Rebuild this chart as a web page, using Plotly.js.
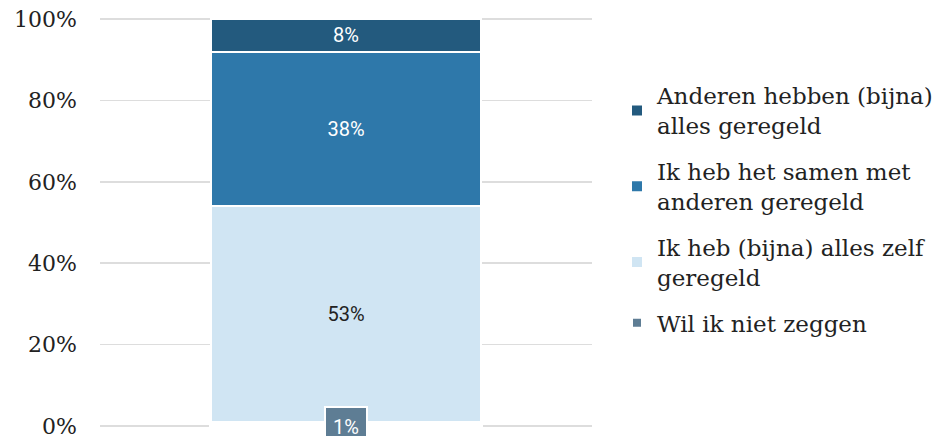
<!DOCTYPE html>
<html>
<head>
<meta charset="utf-8">
<script src="https://cdn.plot.ly/plotly-3.0.1.min.js"></script>
<style>html,body{margin:0;padding:0;background:#fff;}#chart{width:934px;height:436px;}</style>
</head>
<body>
<div id="chart"></div>
<script>
var categories = ["Totaal"];
var seriesNames = [
  "Wil ik niet zeggen",
  "Ik heb (bijna) alles zelf<br>geregeld",
  "Ik heb het samen met<br>anderen geregeld",
  "Anderen hebben (bijna)<br>alles geregeld"
];
var seriesValues = [
  [1],
  [53],
  [38],
  [8]
];
var seriesColors = ["#5e7d94", "#d0e5f3", "#2e78aa", "#235a7e"];
var textColors = ["#ffffff", "#222222", "#ffffff", "#ffffff"];
var yTickVals = [0, 20, 40, 60, 80, 100];
var yTickText = ["0%", "20%", "40%", "60%", "80%", "100%"];

var traces = seriesNames.map(function (name, i) {
  return {
    type: "bar",
    name: name,
    x: categories,
    y: seriesValues[i],
    text: i === 0 ? [""] : seriesValues[i].map(function (v) { return v + "%"; }),
    textposition: "inside",
    insidetextanchor: "middle",
    textangle: 0,
    textfont: { family: "Roboto, sans-serif", size: 20, color: textColors[i] },
    marker: { color: seriesColors[i], line: { color: "#ffffff", width: i === 0 ? 4 : 2 } },
    hoverinfo: "none",
    legendgroup: "g" + i,
    legendrank: 1000 - i
  };
});

var layout = {
  width: 934,
  height: 436,
  margin: { l: 100, r: 342, t: 18, b: 9 },
  barmode: "stack",
  bargap: 0.45,
  showlegend: true,
  paper_bgcolor: "#ffffff",
  plot_bgcolor: "#ffffff",
  xaxis: { showticklabels: false, showgrid: false, zeroline: false, showline: false, ticks: "" },
  yaxis: {
    range: [-0.25, 100.25],
    tickmode: "array",
    tickvals: yTickVals,
    ticktext: yTickText,
    showgrid: true,
    gridcolor: "#dddddd",
    gridwidth: 1.5,
    zeroline: false,
    showline: false,
    ticks: "",
    ticklabelstandoff: 22,
    ticklabeloverflow: "allow",
    tickfont: { family: "DejaVu Serif, serif", size: 22, color: "#222222" }
  },
  legend: {
    xref: "container", yref: "container",
    x: 617 / 934, xanchor: "left",
    y: 1 - 209.5 / 436, yanchor: "middle",
    traceorder: "grouped",
    tracegroupgap: 13,
    maxheight: 436,
    font: { family: "DejaVu Serif, serif", size: 23, color: "#222222" },
    itemwidth: 30
  },
  annotations: [{
    x: categories[0],
    y: 0,
    xref: "x", yref: "y",
    yshift: -1,
    text: seriesValues[0][0] + "%",
    showarrow: false,
    bgcolor: seriesColors[0],
    bordercolor: "#ffffff",
    borderwidth: 2,
    borderpad: 7,
    font: { family: "Roboto, sans-serif", size: 20, color: "#ffffff" }
  }]
};

Plotly.newPlot("chart", traces, layout, { displayModeBar: false, staticPlot: true });
</script>
</body>
</html>
